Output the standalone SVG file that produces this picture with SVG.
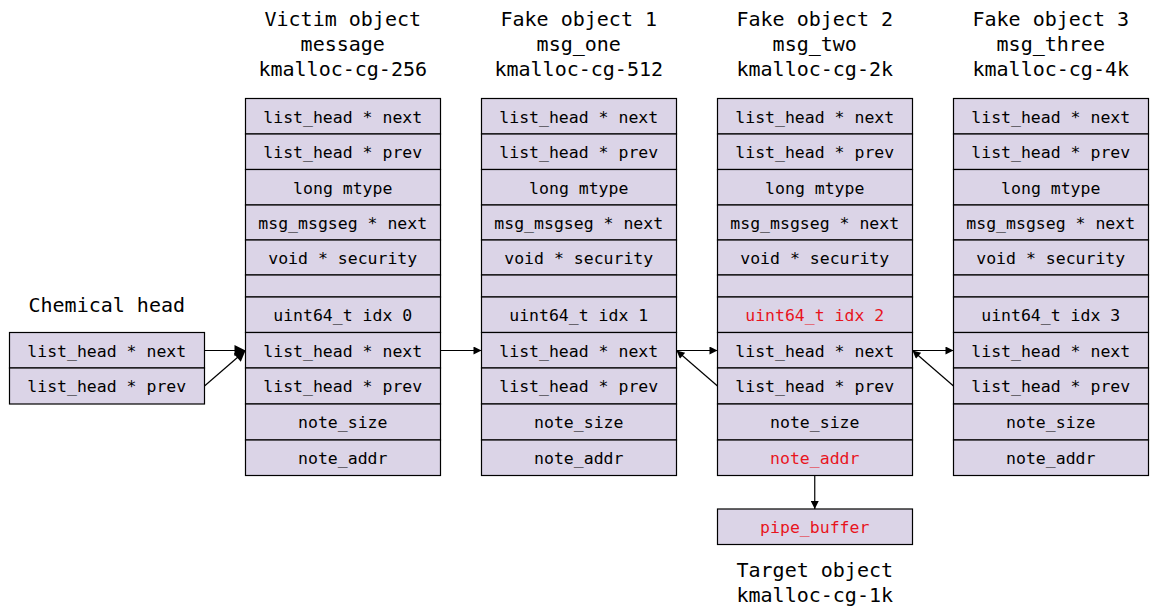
<svg xmlns="http://www.w3.org/2000/svg" width="1157" height="614" viewBox="0 0 1157 614">
<defs>
<style>
.c{fill:#dbd4e7;stroke:#000;stroke-width:1.2}
.t{font-family:"DejaVu Sans Mono","Liberation Mono",monospace;font-size:16.5px;fill:#000;text-anchor:middle}
.h{font-family:"DejaVu Sans Mono","Liberation Mono",monospace;font-size:20px;fill:#000;text-anchor:middle}
.r{fill:#e8141e}
.e{stroke:#000;stroke-width:1.2;fill:none}
</style>
<marker id="a" viewBox="0 0 10 10" refX="10" refY="5" markerWidth="11" markerHeight="8" markerUnits="userSpaceOnUse" orient="auto"><path d="M0,0 L10,5 L0,10 z" fill="#000"/></marker>
<marker id="b" viewBox="0 0 10 10" refX="10" refY="5" markerWidth="14" markerHeight="11" markerUnits="userSpaceOnUse" orient="auto"><path d="M0,0 L10,5 L0,10 z" fill="#000"/></marker>
<g id="row">
<rect class="c" x="0" y="98.5" width="195" height="35.5"/>
<rect class="c" x="0" y="134" width="195" height="35.5"/>
<rect class="c" x="0" y="169.5" width="195" height="35.5"/>
<rect class="c" x="0" y="205" width="195" height="35"/>
<rect class="c" x="0" y="240" width="195" height="35"/>
<rect class="c" x="0" y="275" width="195" height="22"/>
<rect class="c" x="0" y="297" width="195" height="35.5"/>
<rect class="c" x="0" y="332.5" width="195" height="35.5"/>
<rect class="c" x="0" y="368" width="195" height="36"/>
<rect class="c" x="0" y="404" width="195" height="36"/>
<rect class="c" x="0" y="440" width="195" height="35.5"/>
</g>
</defs>

<g id="chemical">
<text class="h" x="106.75" y="312">Chemical head</text>
<rect class="c" x="9.5" y="332.5" width="195" height="35.5"/>
<rect class="c" x="9.5" y="368" width="195" height="36"/>
<text class="t" x="106.75" y="356.5">list_head * next</text>
<text class="t" x="106.75" y="392">list_head * prev</text>
</g>

<g id="victim">
<text class="h" x="342.75" y="25.5">Victim object</text>
<text class="h" x="342.75" y="51">message</text>
<text class="h" x="342.75" y="76">kmalloc-cg-256</text>
<use href="#row" x="245.5"/>
<g class="t">
<text class="t" x="342.75" y="122.5">list_head * next</text>
<text class="t" x="342.75" y="158">list_head * prev</text>
<text class="t" x="342.75" y="193.5">long mtype</text>
<text class="t" x="342.75" y="228.5">msg_msgseg * next</text>
<text class="t" x="342.75" y="263.5">void * security</text>
<text class="t" x="342.75" y="321">uint64_t idx 0</text>
<text class="t" x="342.75" y="356.5">list_head * next</text>
<text class="t" x="342.75" y="392">list_head * prev</text>
<text class="t" x="342.75" y="428">note_size</text>
<text class="t" x="342.75" y="464">note_addr</text>
</g>
</g>

<g id="fake1">
<text class="h" x="578.75" y="25.5">Fake object 1</text>
<text class="h" x="578.75" y="51">msg_one</text>
<text class="h" x="578.75" y="76">kmalloc-cg-512</text>
<use href="#row" x="481.5"/>
<text class="t" x="578.75" y="122.5">list_head * next</text>
<text class="t" x="578.75" y="158">list_head * prev</text>
<text class="t" x="578.75" y="193.5">long mtype</text>
<text class="t" x="578.75" y="228.5">msg_msgseg * next</text>
<text class="t" x="578.75" y="263.5">void * security</text>
<text class="t" x="578.75" y="321">uint64_t idx 1</text>
<text class="t" x="578.75" y="356.5">list_head * next</text>
<text class="t" x="578.75" y="392">list_head * prev</text>
<text class="t" x="578.75" y="428">note_size</text>
<text class="t" x="578.75" y="464">note_addr</text>
</g>

<g id="fake2">
<text class="h" x="814.75" y="25.5">Fake object 2</text>
<text class="h" x="814.75" y="51">msg_two</text>
<text class="h" x="814.75" y="76">kmalloc-cg-2k</text>
<use href="#row" x="717.5"/>
<text class="t" x="814.75" y="122.5">list_head * next</text>
<text class="t" x="814.75" y="158">list_head * prev</text>
<text class="t" x="814.75" y="193.5">long mtype</text>
<text class="t" x="814.75" y="228.5">msg_msgseg * next</text>
<text class="t" x="814.75" y="263.5">void * security</text>
<text class="t r" x="814.75" y="321">uint64_t idx 2</text>
<text class="t" x="814.75" y="356.5">list_head * next</text>
<text class="t" x="814.75" y="392">list_head * prev</text>
<text class="t" x="814.75" y="428">note_size</text>
<text class="t r" x="814.75" y="464">note_addr</text>
</g>

<g id="fake3">
<text class="h" x="1050.75" y="25.5">Fake object 3</text>
<text class="h" x="1050.75" y="51">msg_three</text>
<text class="h" x="1050.75" y="76">kmalloc-cg-4k</text>
<use href="#row" x="953.5"/>
<text class="t" x="1050.75" y="122.5">list_head * next</text>
<text class="t" x="1050.75" y="158">list_head * prev</text>
<text class="t" x="1050.75" y="193.5">long mtype</text>
<text class="t" x="1050.75" y="228.5">msg_msgseg * next</text>
<text class="t" x="1050.75" y="263.5">void * security</text>
<text class="t" x="1050.75" y="321">uint64_t idx 3</text>
<text class="t" x="1050.75" y="356.5">list_head * next</text>
<text class="t" x="1050.75" y="392">list_head * prev</text>
<text class="t" x="1050.75" y="428">note_size</text>
<text class="t" x="1050.75" y="464">note_addr</text>
</g>

<g id="target">
<rect class="c" x="717.5" y="509" width="195" height="35.5"/>
<text class="t r" x="814.75" y="533">pipe_buffer</text>
<text class="h" x="814.75" y="576.5">Target object</text>
<text class="h" x="814.75" y="601.5">kmalloc-cg-1k</text>
</g>

<g id="connectors">
<line class="e" x1="204.5" y1="350.5" x2="245.5" y2="350.5" marker-end="url(#b)"/>
<line class="e" x1="204.5" y1="386" x2="245.5" y2="350.5" marker-end="url(#b)"/>
<line class="e" x1="440.5" y1="350.5" x2="481.5" y2="350.5" marker-end="url(#a)"/>
<line class="e" x1="676.5" y1="350.5" x2="717.5" y2="350.5" marker-end="url(#a)"/>
<line class="e" x1="717.5" y1="386" x2="676.5" y2="350.5" marker-end="url(#a)"/>
<line class="e" x1="912.5" y1="350.5" x2="953.5" y2="350.5" marker-end="url(#a)"/>
<line class="e" x1="953.5" y1="386" x2="912.5" y2="350.5" marker-end="url(#a)"/>
<line class="e" x1="814.75" y1="475.5" x2="814.75" y2="509" marker-end="url(#a)"/>
</g>
</svg>
